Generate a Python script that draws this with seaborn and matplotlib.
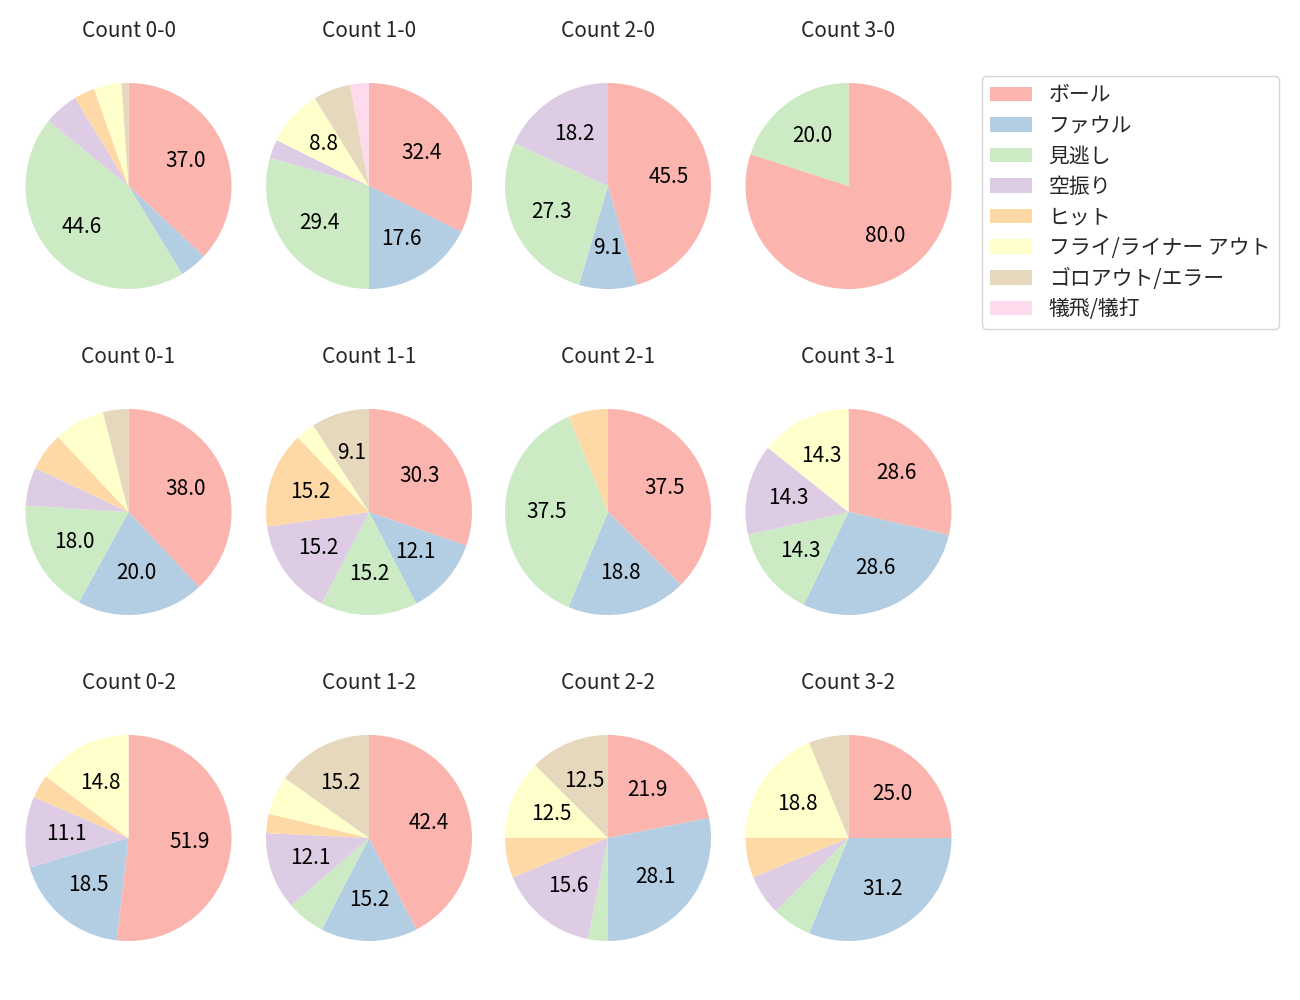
import matplotlib
matplotlib.use("Agg")
import matplotlib.pyplot as plt
from matplotlib.patches import Patch
import seaborn as sns

# ---- data ----
categories = ["ボール", "ファウル", "見逃し", "空振り", "ヒット",
              "フライ/ライナー アウト", "ゴロアウト/エラー", "犠飛/犠打"]
panel_counts = ["0-0", "1-0", "2-0", "3-0",
                "0-1", "1-1", "2-1", "3-1",
                "0-2", "1-2", "2-2", "3-2"]
ball      = [34, 11, 5, 4, 19, 10, 6, 2, 14, 14, 7, 4]
foul      = [4, 6, 1, 0, 10, 4, 3, 2, 5, 5, 9, 5]
looking   = [41, 10, 3, 1, 9, 5, 6, 1, 0, 2, 1, 1]
swinging  = [5, 1, 2, 0, 3, 5, 0, 1, 3, 4, 5, 1]
hit       = [3, 0, 0, 0, 3, 5, 1, 0, 1, 1, 2, 1]
fly_out   = [4, 3, 0, 0, 4, 1, 0, 1, 4, 2, 4, 3]
ground    = [1, 2, 0, 0, 2, 3, 0, 0, 0, 5, 4, 1]
sacrifice = [0, 1, 0, 0, 0, 0, 0, 0, 0, 0, 0, 0]

series = [ball, foul, looking, swinging, hit, fly_out, ground, sacrifice]

# ---- style ----
sns.set_style("white")
plt.rcParams["font.family"] = ["Noto Sans CJK JP", "DejaVu Sans"]
plt.rcParams["font.size"] = 15
colors = sns.color_palette("Pastel1", len(categories))

W, H = 1300, 1000
fig = plt.figure(figsize=(13, 10), dpi=100)

col_cx = [128.5, 369, 608, 848.5]
row_cy = [186, 512, 838]
R = 103.0
S = 250.0
L = (S / 2) / R

for i, cnt in enumerate(panel_counts):
    r, c = divmod(i, 4)
    cx, cy = col_cx[c], row_cy[r]
    ax = fig.add_axes([(cx - S / 2) / W, 1 - (cy + S / 2) / H, S / W, S / H])
    vals = [s[i] for s in series]
    ax.pie(vals, colors=colors, startangle=90, counterclock=False,
           autopct=lambda p: f"{p:.1f}" if p >= 8.5 else "",
           pctdistance=0.6, textprops={"fontsize": 15, "color": "black"},
           wedgeprops={"linewidth": 0, "edgecolor": "none"})
    ax.set_xlim(-L, L)
    ax.set_ylim(-L, L)
    ax.set_aspect("equal")
    ax.set_title(f"Count {cnt}", fontsize=15, pad=17)

handles = [Patch(facecolor=colors[k], edgecolor="none", label=categories[k])
           for k in range(len(categories))]
fig.legend(handles=handles, loc="upper left",
           bbox_to_anchor=(982 / W, 1 - 76 / H), borderaxespad=0, fontsize=15,
           labelspacing=0.41)

fig.savefig("out.png", dpi=100)
